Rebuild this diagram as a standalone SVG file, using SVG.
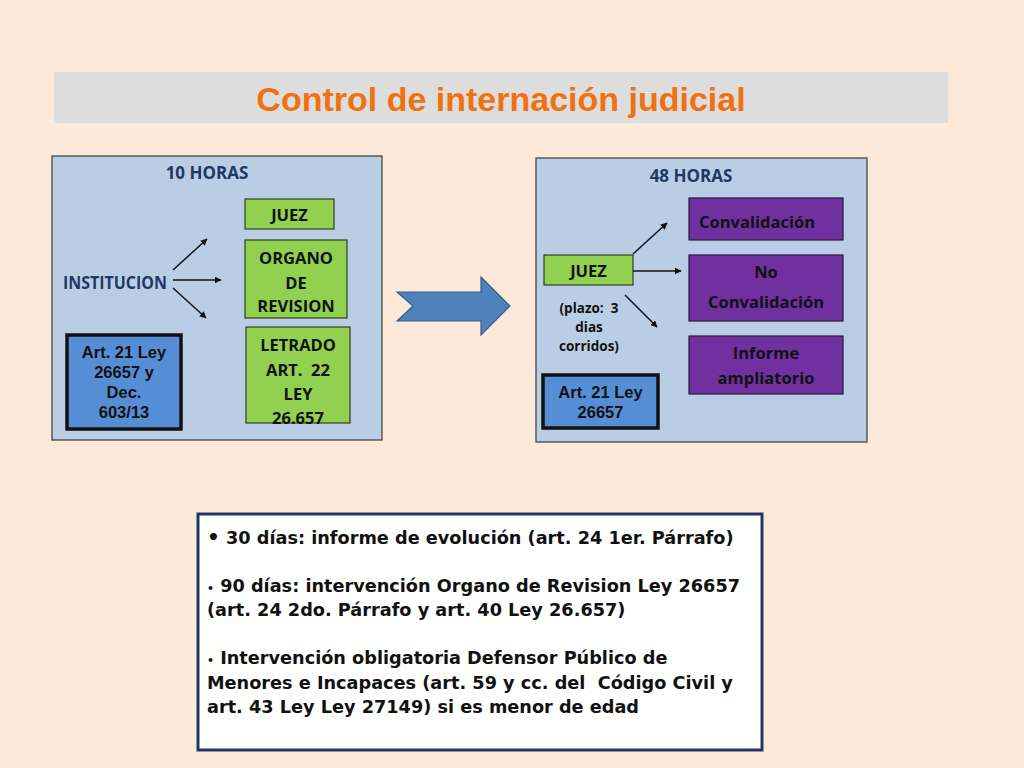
<svg xmlns="http://www.w3.org/2000/svg" width="1024" height="768" viewBox="0 0 1024 768">
<defs>
<style>
.panel{fill:#B9CDE5;stroke:#3A3A3A;stroke-width:1.2}
.green{fill:#92D050;stroke:#2F3F1F;stroke-width:1.2}
.purple{fill:#7030A0;stroke:#2A1A3A;stroke-width:1.2}
.art{fill:#558ED5;stroke:#111;stroke-width:3.5}
.c{font-family:"Open Sans","Noto Sans",sans-serif;font-weight:bold;text-anchor:middle}
.dark{fill:#111}
.navy{fill:#1F3864}
.a{font-family:"Liberation Sans",Arial,sans-serif;font-weight:bold;font-size:16.5px;fill:#111;text-anchor:middle}
.v{font-family:"DejaVu Sans",Verdana,sans-serif;font-weight:bold;font-size:17.7px;fill:#111}
.conn{stroke:#111;stroke-width:1.5;fill:none;marker-end:url(#ah)}
</style>
<marker id="ah" viewBox="0 0 10 10" refX="9" refY="5" markerWidth="7" markerHeight="7" orient="auto" markerUnits="userSpaceOnUse">
<path d="M0,0 L10,5 L0,10 Z" fill="#111"/>
</marker>
</defs>
<rect x="0" y="0" width="1024" height="768" fill="#FDE9D9"/>
<g id="title">
<rect x="54" y="72" width="894" height="51" fill="#DDDDDD"/>
<text x="501" y="111" font-family="Liberation Sans,Arial,sans-serif" font-weight="bold" font-size="34" fill="#F07112" text-anchor="middle">Control de internación judicial</text>
</g>
<g id="panel-left">
<rect class="panel" x="52" y="156" width="330" height="284"/>
<text class="c navy" x="207" y="179" font-size="17">10 HORAS</text>
</g>
<g id="institucion">
<text class="c navy" x="115" y="289" font-size="18" textLength="104" lengthAdjust="spacingAndGlyphs">INSTITUCION</text>
</g>
<g id="juez-left">
<rect class="green" x="245" y="199" width="89" height="30"/>
<text class="c dark" x="289.5" y="221" font-size="16.5">JUEZ</text>
</g>
<g id="organo">
<rect class="green" x="245" y="240" width="102" height="78"/>
<text class="c dark" x="296" y="264" font-size="16.5">ORGANO</text>
<text class="c dark" x="296" y="289" font-size="16.5">DE</text>
<text class="c dark" x="296" y="312" font-size="16.5">REVISION</text>
</g>
<g id="letrado">
<rect class="green" x="246" y="327" width="104" height="96"/>
<text class="c dark" x="298" y="351" font-size="16.5">LETRADO</text>
<text class="c dark" x="298" y="376" font-size="16.5" xml:space="preserve">ART.  22</text>
<text class="c dark" x="298" y="400" font-size="16.5">LEY</text>
<text class="c dark" x="298" y="424" font-size="16.5">26.657</text>
</g>
<g id="art-left">
<rect class="art" x="67" y="335" width="114" height="94"/>
<text class="a" x="124" y="358">Art. 21 Ley</text>
<text class="a" x="124" y="378">26657 y</text>
<text class="a" x="124" y="398">Dec.</text>
<text class="a" x="124" y="418">603/13</text>
</g>
<g id="big-arrow">
<path d="M397,292 L481,292 L481,277 L510,306 L481,335 L481,321 L397,321 L413,306 Z" fill="#4F81BD" stroke="#385D8A" stroke-width="1.2"/>
</g>
<g id="panel-right">
<rect class="panel" x="536" y="158" width="331" height="284"/>
<text class="c navy" x="691" y="182" font-size="17">48 HORAS</text>
</g>
<g id="juez-right">
<rect class="green" x="544" y="255" width="89" height="30"/>
<text class="c dark" x="588.5" y="277" font-size="16.5">JUEZ</text>
<text class="c dark" x="589" y="313" font-size="13.5" xml:space="preserve">(plazo:  3</text>
<text class="c dark" x="589" y="332" font-size="13.5">dias</text>
<text class="c dark" x="589" y="351" font-size="13.5">corridos)</text>
</g>
<g id="convalidacion">
<rect class="purple" x="689" y="198" width="154" height="42"/>
<text class="c dark" x="757" y="228" font-size="16.5">Convalidación</text>
</g>
<g id="no-convalidacion">
<rect class="purple" x="689" y="255" width="154" height="66"/>
<text class="c dark" x="766" y="278" font-size="16.5">No</text>
<text class="c dark" x="766" y="308" font-size="16.5">Convalidación</text>
</g>
<g id="informe">
<rect class="purple" x="689" y="336" width="154" height="58"/>
<text class="c dark" x="766" y="359" font-size="16.5">Informe</text>
<text class="c dark" x="766" y="384" font-size="16.5">ampliatorio</text>
</g>
<g id="art-right">
<rect class="art" x="543" y="375" width="115" height="53"/>
<text class="a" x="600.5" y="398">Art. 21 Ley</text>
<text class="a" x="600.5" y="418">26657</text>
</g>
<g id="connectors">
<line class="conn" x1="173" y1="270" x2="207" y2="239"/>
<line class="conn" x1="173" y1="280" x2="221" y2="280"/>
<line class="conn" x1="173" y1="288" x2="206" y2="318"/>
<line class="conn" x1="633" y1="254" x2="667" y2="223"/>
<line class="conn" x1="633" y1="271" x2="681" y2="271"/>
<line class="conn" x1="625" y1="295" x2="657" y2="327"/>
</g>
<g id="notes">
<rect x="198" y="514" width="564" height="236" fill="#FFFFFF" stroke="#1F3864" stroke-width="3"/>
<text class="v" x="207" y="544"><tspan font-size="20">•</tspan><tspan x="226">30 días: informe de evolución (art. 24 1er. Párrafo)</tspan></text>
<text class="v" x="207" y="592"><tspan font-size="11">•</tspan> 90 días: intervención Organo de Revision Ley 26657</text>
<text class="v" x="207" y="616">(art. 24 2do. Párrafo y art. 40 Ley 26.657)</text>
<text class="v" x="207" y="664"><tspan font-size="11">•</tspan> Intervención obligatoria Defensor Público de</text>
<text class="v" x="207" y="689" xml:space="preserve">Menores e Incapaces (art. 59 y cc. del  Código Civil y</text>
<text class="v" x="207" y="713">art. 43 Ley Ley 27149) si es menor de edad</text>
</g>
</svg>
